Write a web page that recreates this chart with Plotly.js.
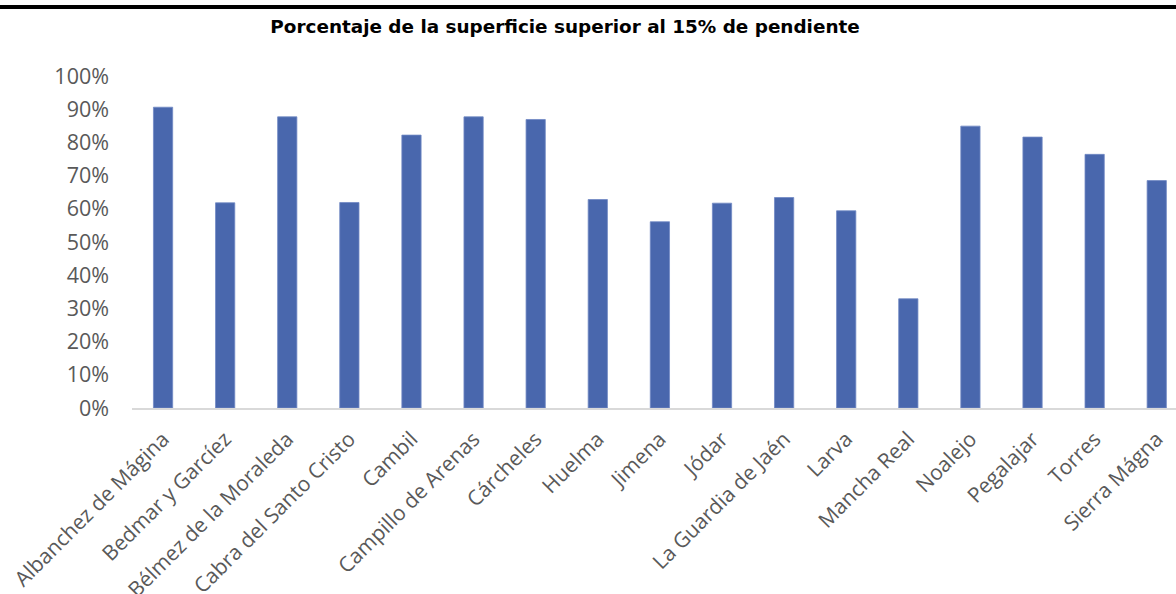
<!DOCTYPE html>
<html>
<head>
<meta charset="utf-8">
<script src="https://cdn.plot.ly/plotly-3.0.1.min.js"></script>
<style>
html,body{margin:0;padding:0;background:#fff;}
#wrap{position:relative;width:1176px;height:594px;overflow:hidden;}
#topline{position:absolute;left:0;top:4.5px;width:1176px;height:4px;background:#000;z-index:5;}
#chart{width:1176px;height:594px;}
</style>
</head>
<body>
<div id="wrap"><div id="topline"></div><div id="chart"></div></div>
<script>
const municipios = ["Albanchez de Mágina","Bedmar y Garcíez","Bélmez de la Moraleda","Cabra del Santo Cristo","Cambil","Campillo de Arenas","Cárcheles","Huelma","Jimena","Jódar","La Guardia de Jaén","Larva","Mancha Real","Noalejo","Pegalajar","Torres","Sierra Mágna"];
const porcentaje = [0.906,0.618,0.877,0.619,0.822,0.877,0.869,0.628,0.561,0.617,0.634,0.594,0.329,0.849,0.816,0.764,0.685];
const yTicks = [0,0.1,0.2,0.3,0.4,0.5,0.6,0.7,0.8,0.9,1];
const titulo = "Porcentaje de la superficie superior al 15% de pendiente";

const trace = {
  type: 'bar',
  x: municipios,
  y: porcentaje,
  marker: {color: '#4967ad', line: {color: '#7189c4', width: 0.8}},
  width: 0.31,
  hoverinfo: 'x+y'
};
const layout = {
  width: 1176, height: 594,
  margin: {l: 132, r: 0, t: 76.4, b: 186.3, pad: 0},
  paper_bgcolor: '#ffffff', plot_bgcolor: '#ffffff',
  showlegend: false,
  title: {text: '<b>' + titulo + '</b>', x: 0.4805, xanchor: 'center', y: 0.956, yanchor: 'middle',
          font: {family: '"DejaVu Sans", sans-serif', size: 18.4, color: '#000000'}},
  xaxis: {
    type: 'category',
    range: [-0.5, 16.31],
    tickangle: -45,
    tickfont: {family: '"Open Sans", sans-serif', size: 21, color: '#595959'},
    ticklabelstandoff: 9,
    showline: true, linecolor: '#d9d9d9', linewidth: 1.5,
    showgrid: false, zeroline: false, ticks: '', fixedrange: true
  },
  yaxis: {
    range: [0, 1],
    tickvals: yTicks,
    tickformat: '.0%',
    tickfont: {family: '"Open Sans", sans-serif', size: 21.5, color: '#595959'},
    showgrid: false, zeroline: false, showline: false, ticks: '',
    ticklabelstandoff: 22, fixedrange: true
  }
};
Plotly.newPlot('chart', [trace], layout, {displayModeBar: false, staticPlot: true});
</script>
</body>
</html>
